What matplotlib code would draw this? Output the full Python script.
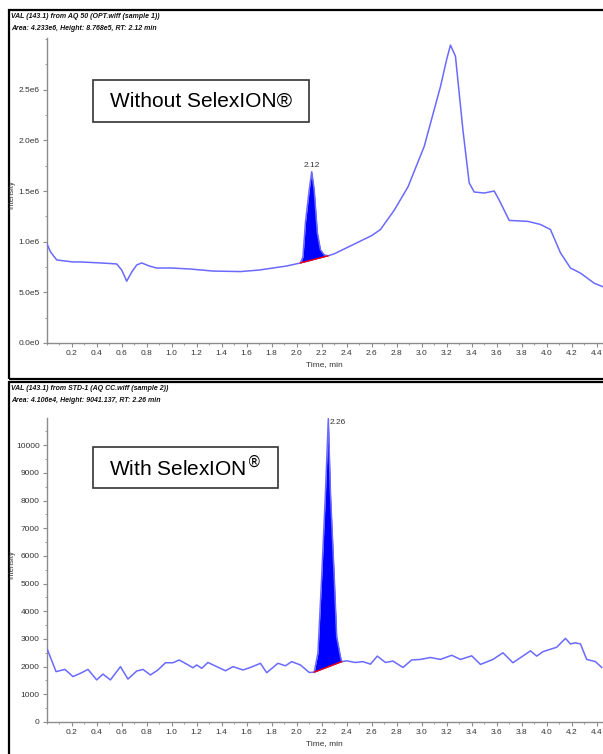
import matplotlib
matplotlib.use("Agg")
import matplotlib.pyplot as plt
from matplotlib.patches import Rectangle
from matplotlib.ticker import FixedLocator, MultipleLocator
import numpy as np

plt.rcParams['font.family'] = ['Liberation Sans Narrow', 'Liberation Sans', 'DejaVu Sans']

# top chromatogram (without SelexION), intensity in units of 1e6
top_time = [0.00, 0.03, 0.08, 0.14, 0.21, 0.27, 0.35, 0.43, 0.50, 0.56, 0.60, 0.64, 0.68,
            0.72, 0.76, 0.82, 0.88, 1.00, 1.15, 1.33, 1.55, 1.70, 1.81, 1.92, 2.03, 2.05,
            2.07, 2.10, 2.12, 2.14, 2.165, 2.19, 2.22, 2.25, 2.30, 2.40, 2.50, 2.60, 2.67,
            2.78, 2.89, 3.02, 3.15, 3.20, 3.23, 3.27, 3.33, 3.38, 3.42, 3.50, 3.58, 3.62,
            3.70, 3.85, 3.95, 4.03, 4.11, 4.19, 4.27, 4.38, 4.46]
top_intensity_e6 = [0.985, 0.90, 0.82, 0.81, 0.80, 0.80, 0.795, 0.79, 0.785, 0.78, 0.72, 0.61,
                    0.70, 0.77, 0.79, 0.76, 0.74, 0.74, 0.73, 0.71, 0.705, 0.72, 0.74, 0.76,
                    0.79, 0.85, 1.19, 1.51, 1.69, 1.51, 1.09, 0.92, 0.87, 0.86, 0.88, 0.94,
                    1.00, 1.06, 1.12, 1.31, 1.54, 1.94, 2.53, 2.80, 2.94, 2.83, 2.10, 1.58,
                    1.49, 1.48, 1.50, 1.41, 1.21, 1.20, 1.17, 1.12, 0.89, 0.74, 0.69, 0.59, 0.55]
top_peak = (2.03, 2.25)
top_peak_label = "2.12"
top_header = ["VAL (143.1) from AQ 50 (OPT.wiff (sample 1))",
              "Area: 4.233e6, Height: 8.768e5, RT: 2.12 min"]
top_yticks = [0.0, 0.5, 1.0, 1.5, 2.0, 2.5]
top_yticklabels = ["0.0e0", "5.0e5", "1.0e6", "1.5e6", "2.0e6", "2.5e6"]

# bottom chromatogram (with SelexION)
bot_time = [0.005, 0.075, 0.146, 0.21, 0.28, 0.33, 0.40, 0.45, 0.51, 0.59, 0.65, 0.72, 0.77,
            0.83, 0.89, 0.95, 1.01, 1.06, 1.12, 1.17, 1.20, 1.24, 1.29, 1.36, 1.43, 1.49,
            1.57, 1.63, 1.71, 1.76, 1.85, 1.91, 1.96, 2.03, 2.10, 2.14, 2.17, 2.20, 2.23,
            2.253, 2.27, 2.30, 2.32, 2.35, 2.36, 2.40, 2.47, 2.53, 2.59, 2.645, 2.71, 2.77,
            2.85, 2.92, 2.99, 3.07, 3.15, 3.24, 3.31, 3.40, 3.47, 3.57, 3.65, 3.73, 3.87,
            3.92, 3.97, 4.08, 4.15, 4.19, 4.23, 4.27, 4.32, 4.39, 4.44]
bot_intensity = [2620, 1820, 1900, 1640, 1780, 1900, 1520, 1730, 1520, 2000, 1550, 1840, 1900,
                 1700, 1880, 2140, 2140, 2240, 2090, 1960, 2060, 1940, 2150, 2000, 1850, 2000,
                 1880, 1970, 2120, 1780, 2120, 2030, 2180, 2060, 1790, 1800, 2500, 5250, 8270,
                 10960, 8270, 5250, 3080, 2360, 2180, 2210, 2150, 2180, 2090, 2380, 2150, 2200,
                 1970, 2240, 2260, 2330, 2260, 2410, 2260, 2390, 2080, 2260, 2500, 2140, 2570,
                 2380, 2540, 2700, 3020, 2820, 2860, 2820, 2260, 2180, 1970]
bot_peak = (2.14, 2.36)
bot_peak_label = "2.26"
bot_header = ["VAL (143.1) from STD-1 (AQ CC.wiff (sample 2))",
              "Area: 4.106e4, Height: 9041.137, RT: 2.26 min"]
bot_yticks = [0, 1000, 2000, 3000, 4000, 5000, 6000, 7000, 8000, 9000, 10000]
bot_yticklabels = [str(v) for v in bot_yticks]

xticks = [0.2, 0.4, 0.6, 0.8, 1.0, 1.2, 1.4, 1.6, 1.8, 2.0, 2.2, 2.4, 2.6, 2.8, 3.0,
          3.2, 3.4, 3.6, 3.8, 4.0, 4.2, 4.4]

W, H = 603, 754
LINE = '#6a6aff'
GRAY = '#8c8c8c'
TXT = '#333333'


def fx(px):
    return px / W


def fy(py):
    return 1 - py / H


def draw_panel(fig, rect, t, y, peak, peak_label, ylim, yticks, yticklabels, yminor, label_pos):
    ax = fig.add_axes(rect)
    t = np.array(t)
    y = np.array(y)
    ax.plot(t, y, color=LINE, lw=1.1, zorder=3)

    # integrated peak: fill between curve and straight baseline
    m = (t >= peak[0]) & (t <= peak[1])
    y0 = np.interp(peak[0], t, y)
    y1 = np.interp(peak[1], t, y)
    base = y0 + (y1 - y0) * (t[m] - peak[0]) / (peak[1] - peak[0])
    ax.fill_between(t[m], base, y[m], color='#0000ff', lw=0, zorder=2)
    ax.plot([peak[0], peak[1]], [y0, y1], color='#ff0000', lw=1.0, zorder=4)

    apex = np.argmax(y[m])
    ax.text(t[m][apex] + label_pos[0], y[m][apex] + label_pos[1], peak_label,
            fontsize=6, color=TXT, ha=label_pos[2], va='bottom' if label_pos[1] > 0 else 'top')

    ax.set_xlim(0, (W - 46.7) / 125)
    ax.set_ylim(*ylim)
    for s in ['top', 'right']:
        ax.spines[s].set_visible(False)
    for s in ['left', 'bottom']:
        ax.spines[s].set_color(GRAY)
        ax.spines[s].set_linewidth(1.0)
    ax.xaxis.set_major_locator(FixedLocator(xticks))
    ax.set_xticklabels(["%.1f" % v for v in xticks])
    ax.xaxis.set_minor_locator(MultipleLocator(0.1))
    ax.yaxis.set_major_locator(FixedLocator(yticks))
    ax.set_yticklabels(yticklabels)
    ax.yaxis.set_minor_locator(MultipleLocator(yminor))
    ax.tick_params(which='major', length=3, width=0.8, color=GRAY, labelsize=6,
                   labelcolor=TXT, pad=2)
    ax.tick_params(which='minor', length=1.2, width=0.6, color=GRAY)
    ax.set_xlabel("Time, min", fontsize=6, color=TXT, labelpad=3)
    return ax


fig = plt.figure(figsize=(W / 100, H / 100), dpi=100)

# panel frames
fig.patches.append(Rectangle((fx(9), fy(379)), fx(600), fy(10) - fy(379), transform=fig.transFigure,
                             fill=False, ec='black', lw=1.6))
fig.patches.append(Rectangle((fx(9), fy(760)), fx(600), fy(382) - fy(760), transform=fig.transFigure,
                             fill=False, ec='black', lw=1.6))

ax1 = draw_panel(fig, [fx(46.7), fy(343), 1 - fx(46.7), (343 - 38) / H],
                 top_time, top_intensity_e6, top_peak, top_peak_label,
                 (0, 3.01), top_yticks, top_yticklabels, 0.25, (0, 0.03, 'center'))
ax2 = draw_panel(fig, [fx(46.7), fy(722), 1 - fx(46.7), (722 - 418) / H],
                 bot_time, bot_intensity, bot_peak, bot_peak_label,
                 (0, 10980), bot_yticks, bot_yticklabels, 500, (0.01, 0, 'left'))

fig.text(fx(12), fy(195), "Intensity", rotation=90, fontsize=5.5, color=TXT, va='center', ha='center')
fig.text(fx(12), fy(565), "Intensity", rotation=90, fontsize=5.5, color=TXT, va='center', ha='center')

for hdr, y0 in [(top_header, 16), (bot_header, 388)]:
    for i, line in enumerate(hdr):
        fig.text(fx(11), fy(y0 + i * 13), line, fontsize=5, style='italic', weight='bold',
                 color='#111111', va='center', ha='left')

# labels in boxes
for (x0, y0, x1, y1) in [(92.7, 80, 309.3, 121.7), (92.7, 447, 278, 488)]:
    fig.patches.append(Rectangle((fx(x0), fy(y1)), fx(x1 - x0), fy(y0) - fy(y1),
                                 transform=fig.transFigure, fc='white', ec='#333333', lw=1.2,
                                 zorder=5))
fig.text(fx(201), fy(101), "Without SelexION\u00ae", fontsize=15, family='Liberation Sans',
         ha='center', va='center', zorder=6)
fig.text(fx(185), fy(467), "With SelexION$^{\u00ae}$", fontsize=15, family='Liberation Sans',
         ha='center', va='center', zorder=6)

fig.savefig("out.png", dpi=100)
